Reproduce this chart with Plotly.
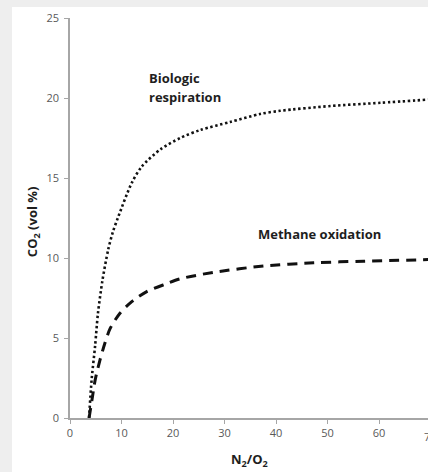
import plotly.graph_objects as go

# Data
bio_x = [3.7, 4.2, 4.86, 5.43, 6.3, 7.4, 8.3, 9.4, 12.0, 13.9, 17.6, 21.4, 25.3, 31.1, 36.9, 40.8, 50.6, 60.3, 69.6]
bio_y = [0.0, 2.4, 4.46, 6.55, 8.6, 10.5, 11.6, 12.6, 14.7, 15.7, 16.8, 17.5, 18.0, 18.5, 19.0, 19.2, 19.5, 19.7, 19.9]

meth_x = [3.7, 4.3, 4.9, 5.8, 6.8, 7.8, 9.7, 12.0, 14.9, 18.8, 21.4, 27.8, 37.6, 47.3, 57.0, 69.6]
meth_y = [0.0, 1.2, 2.4, 3.6, 4.7, 5.6, 6.55, 7.27, 7.9, 8.4, 8.7, 9.1, 9.5, 9.7, 9.8, 9.9]

x_ticks = [0, 10, 20, 30, 40, 50, 60]
y_ticks = [0, 5, 10, 15, 20, 25]

FONT = "Open Sans"
TEXT = "#1e1e1e"
TICK = "#595959"
AXIS = "#a6a6a6"

fig = go.Figure()
fig.add_trace(go.Scatter(x=bio_x, y=bio_y, mode="lines", name="Biologic respiration",
                         line=dict(color="#111111", width=2.6, dash="2.4px,2.6px",
                                   shape="spline", smoothing=0.8)))
fig.add_trace(go.Scatter(x=meth_x, y=meth_y, mode="lines", name="Methane oxidation",
                         line=dict(color="#111111", width=3, dash="10px,7px",
                                   shape="spline", smoothing=0.8)))

fig.update_layout(
    width=428, height=472,
    margin=dict(l=70, r=0, t=18, b=54),
    paper_bgcolor="#eeeeee", plot_bgcolor="white",
    showlegend=False,
    font=dict(family=FONT, color=TICK, size=11),
    xaxis=dict(range=[0, 69.5], tickvals=x_ticks, showgrid=False, zeroline=False,
               showline=True, linecolor=AXIS, linewidth=1.5,
               ticks="outside", ticklen=4, tickcolor=AXIS, tickwidth=1,
               tickfont=dict(family=FONT, size=11, color=TICK)),
    yaxis=dict(range=[0, 25], tickvals=y_ticks, showgrid=False, zeroline=False,
               showline=True, linecolor=AXIS, linewidth=1.5,
               ticks="outside", ticklen=4, tickcolor=AXIS, tickwidth=1,
               ticklabelstandoff=3,
               tickfont=dict(family=FONT, size=11, color=TICK)),
    shapes=[dict(type="rect", xref="paper", yref="paper", x0=-0.162, x1=1.05,
                 y0=-0.2, y1=1.0275, fillcolor="white", line=dict(width=0), layer="below")],
    annotations=[
        dict(text="Biologic", x=15.0, y=21.25, xref="x", yref="y", xanchor="left",
             yanchor="middle", showarrow=False,
             font=dict(family=FONT, size=13, color=TEXT, weight="bold")),
        dict(text="respiration", x=15.0, y=20.06, xref="x", yref="y", xanchor="left",
             yanchor="middle", showarrow=False,
             font=dict(family=FONT, size=13, color=TEXT, weight="bold")),
        dict(text="Methane oxidation", x=36.2, y=11.5, xref="x", yref="y", xanchor="left",
             yanchor="middle", showarrow=False,
             font=dict(family=FONT, size=13, color=TEXT, weight="bold")),
        dict(text="N<sub>2</sub>/O<sub>2</sub>", x=0.5, y=-0.105, xref="paper", yref="paper",
             xanchor="center", yanchor="middle", showarrow=False,
             font=dict(family=FONT, size=13, color=TEXT, weight="bold")),
        dict(text="CO<sub>2</sub> (vol %)", x=-0.103, y=0.49, xref="paper", yref="paper",
             xanchor="center", yanchor="middle", showarrow=False, textangle=-90,
             font=dict(family=FONT, size=13, color=TEXT, weight="bold")),
        dict(text="70", x=1.007, y=-0.045, xref="paper", yref="paper",
             xanchor="center", yanchor="middle", showarrow=False,
             font=dict(family=FONT, size=11, color=TICK)),
    ],
)

fig.write_html("out.html")
